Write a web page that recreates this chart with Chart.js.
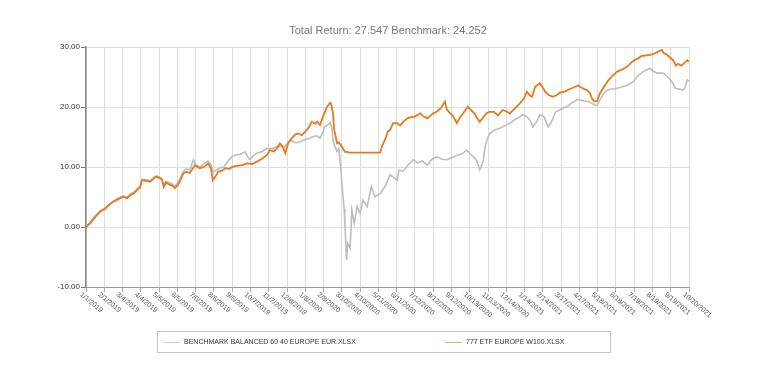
<!DOCTYPE html>
<html>
<head>
<meta charset="utf-8">
<script src="https://cdn.jsdelivr.net/npm/chart.js@4/dist/chart.umd.min.js"></script>
<style>
  html, body { margin: 0; padding: 0; background: #fff; }
  #wrap { position: relative; width: 760px; height: 366px; }
  #title { position: absolute; left: 288px; width: 200px; top: 23px; text-align: center; white-space: nowrap;
           font-family: "Liberation Sans", Arial, sans-serif; font-size: 11px; line-height: 14px; color: #777; }
  #legend { position: absolute; left: 157px; top: 331px; width: 452px; height: 20px; border: 1px solid #c4c4c4;
            font-family: "Liberation Sans", Arial, sans-serif; font-size: 7px; color: #333; }
  .li { position: absolute; top: 0; height: 20px; line-height: 20px; white-space: nowrap; }
  .sw { display: inline-block; width: 17px; height: 0; border-top: 1px solid; vertical-align: middle; margin-right: 4px; }
</style>
</head>
<body>
<div id="wrap">
  <canvas id="c" width="760" height="366"></canvas>
  <div id="title"></div>
  <div id="legend"></div>
</div>
<script>
const titleText = 'Total Return: 27.547 Benchmark: 24.252';
const benchLabel = 'BENCHMARK BALANCED 60 40 EUROPE EUR.XLSX';
const etfLabel = '777 ETF EUROPE W100.XLSX';

const tickLabels = ['1/1/2019','2/1/2019','3/4/2019','4/4/2019','5/5/2019','6/5/2019','7/6/2019','8/6/2019','9/6/2019','10/7/2019','11/7/2019','12/8/2019','1/8/2020','2/8/2020','3/10/2020','4/10/2020','5/11/2020','6/11/2020','7/12/2020','8/12/2020','9/12/2020','10/13/2020','11/13/2020','12/14/2020','1/14/2021','2/14/2021','3/17/2021','4/17/2021','5/18/2021','6/18/2021','7/19/2021','8/19/2021','9/19/2021','10/20/2021'];
const tickStepDays = 31;
const totalDays = 1023;

const yTicks = [-10, 0, 10, 20, 30];

// days since 1/1/2019
const benchDays = [0,7,15,24,32,41,48,54,63,70,75,81,87,92,95,102,109,115,120,126,129,132,136,141,146,151,156,159,165,170,176,182,187,193,200,207,212,215,221,227,234,241,248,254,261,270,275,278,283,290,299,307,316,324,331,336,343,349,356,363,370,377,385,392,397,402,405,411,414,417,419,422,426,429,432,435,438,439,442,444,448,451,455,460,465,470,477,484,490,499,507,516,523,528,531,538,546,555,563,570,579,587,595,604,612,621,629,638,646,651,657,663,668,674,677,682,685,694,702,711,719,726,733,741,748,755,758,765,770,777,784,789,797,804,811,816,823,828,833,838,845,852,858,864,867,872,879,884,891,896,904,911,918,923,930,935,940,945,952,957,962,969,974,980,987,994,1000,1006,1013,1016,1020,1023];
const benchVals = [0.0,0.8,1.8,2.7,3.2,3.8,4.4,4.8,5.2,5.0,5.5,5.8,6.4,6.9,7.9,7.9,7.7,8.3,8.5,8.2,8.0,7.0,7.6,7.4,7.2,6.8,7.4,8.0,9.2,9.7,9.5,11.2,10.3,10.0,10.6,11.0,10.4,9.2,9.5,9.8,10.05,11.0,11.8,12.0,12.1,12.55,11.6,11.2,11.8,12.3,12.6,13.1,13.0,13.4,13.5,13.2,14.2,14.4,14.0,14.2,14.5,14.7,15.05,15.2,14.8,15.8,16.7,17.1,17.4,16.5,14.5,13.4,12.55,13.0,10.05,6.2,3.0,1.1,-5.5,-2.7,-3.5,2.8,0.6,3.4,2.3,4.5,3.4,6.7,5.05,5.6,6.7,8.7,8.2,7.8,9.5,9.3,10.3,11.2,10.7,11.0,10.3,11.3,11.7,11.3,11.2,11.6,11.9,12.2,12.8,12.3,11.7,11.0,9.5,11.0,13.4,15.0,15.6,16.2,16.45,16.9,17.3,17.8,18.2,18.7,18.4,17.5,16.7,17.6,18.7,18.4,16.7,17.4,19.2,19.5,19.9,20.05,20.6,20.9,21.2,21.2,21.0,20.9,20.6,20.3,20.3,21.2,22.3,22.8,23.0,23.0,23.2,23.4,23.6,23.9,24.4,25.05,25.5,25.9,26.2,26.45,26.0,25.6,25.7,25.6,25.0,24.2,23.1,23.0,22.8,23.2,24.5,24.25];

const etfDays = [0,7,15,24,31,37,46,54,63,70,75,81,87,92,95,102,109,115,120,126,129,132,136,141,146,151,156,159,165,170,176,185,193,200,207,212,215,221,224,231,236,243,249,256,265,273,282,290,300,307,312,319,324,329,333,338,343,349,355,360,366,372,378,383,389,392,397,402,409,414,416,419,421,426,429,434,439,448,499,502,509,512,516,521,528,533,539,545,551,558,567,573,579,585,589,595,602,609,612,618,623,629,634,640,648,653,659,663,668,675,680,685,692,699,707,714,719,728,736,743,748,753,757,762,770,775,779,785,792,799,804,813,821,828,835,843,850,855,858,862,867,872,879,886,892,901,909,918,925,930,937,942,950,957,964,970,977,980,986,991,996,1001,1004,1010,1015,1020,1023];
const etfVals = [0.0,0.6,1.6,2.55,2.9,3.5,4.2,4.6,5.05,4.8,5.3,5.6,6.2,6.6,7.8,7.7,7.55,8.1,8.4,8.1,7.9,6.7,7.4,7.1,6.9,6.5,7.0,7.55,8.9,9.2,9.0,10.3,9.8,10.0,10.6,9.8,7.8,8.6,9.2,9.4,9.8,9.7,10.05,10.2,10.3,10.6,10.5,10.9,11.45,12.0,12.8,12.6,13.1,13.95,13.5,12.3,13.95,14.8,15.4,15.6,15.3,15.9,16.6,17.55,17.2,17.6,17.0,18.4,20.05,20.7,20.5,18.95,16.2,13.95,14.1,13.4,12.55,12.4,12.4,13.4,15.0,15.9,16.2,17.3,17.3,16.9,17.6,18.1,18.3,18.4,18.95,18.4,18.1,18.6,18.95,19.2,19.8,20.9,19.6,18.95,18.4,17.3,18.2,18.95,20.05,19.5,18.95,18.2,17.55,18.4,19.0,19.2,19.2,18.6,19.5,19.2,18.95,19.8,20.6,21.4,22.55,21.9,21.7,23.4,23.95,23.2,22.55,22.0,21.7,22.0,22.4,22.6,23.0,23.3,23.6,23.1,22.8,22.3,21.5,20.9,21.0,22.3,23.4,24.4,25.1,25.9,26.2,26.7,27.4,27.8,28.1,28.5,28.6,28.7,28.9,29.2,29.5,29.0,28.7,28.2,27.8,26.9,27.2,26.9,27.3,27.8,27.55];

const benchColor = '#bdbdbd';
const etfColor = '#e8781f';
const FONT = '"Liberation Sans", Arial, sans-serif';

const toPts = (xs, ys) => xs.map((d, i) => ({ x: d, y: ys[i] }));

const xLabelPlugin = {
  id: 'xLabels',
  afterDraw(chart) {
    const sc = chart.scales.x;
    const ctx = chart.ctx;
    ctx.save();
    ctx.font = '7px ' + FONT;
    ctx.fillStyle = '#555';
    ctx.textAlign = 'left';
    ctx.textBaseline = 'top';
    sc.ticks.forEach(t => {
      const px = sc.getPixelForValue(t.value);
      ctx.save();
      ctx.translate(px - 3, sc.top + 4);
      ctx.rotate(40 * Math.PI / 180);
      ctx.fillText(t.label, 0, 0);
      ctx.restore();
    });
    ctx.restore();
  }
};

document.getElementById('title').textContent = titleText;

const chart = new Chart(document.getElementById('c'), {
  type: 'line',
  data: {
    datasets: [
      { label: benchLabel, data: toPts(benchDays, benchVals), borderColor: benchColor, borderWidth: 1.6, pointRadius: 0, tension: 0, order: 1 },
      { label: etfLabel, data: toPts(etfDays, etfVals), borderColor: etfColor, borderWidth: 1.8, pointRadius: 0, tension: 0, order: 0 }
    ]
  },
  options: {
    responsive: false,
    animation: false,
    layout: { padding: { left: 0, right: 71, top: 47, bottom: 0 } },
    plugins: {
      legend: { display: false },
      tooltip: { enabled: false },
      title: { display: false }
    },
    scales: {
      x: {
        type: 'linear', min: 0, max: totalDays,
        afterBuildTicks: s => { s.ticks = tickLabels.map((_, i) => ({ value: i * tickStepDays })); },
        ticks: { display: false, callback: (v, i) => tickLabels[i] },
        grid: { color: '#dedede', lineWidth: 1, tickLength: 5, tickColor: '#aaa' },
        border: { color: '#999', width: 1 },
        afterFit: s => { s.height = 79; }
      },
      y: {
        min: -10, max: 30,
        afterBuildTicks: s => { s.ticks = yTicks.map(v => ({ value: v })); },
        ticks: { callback: v => v.toFixed(2), color: '#333', font: { family: FONT, size: 8 }, padding: 1 },
        grid: { color: '#dedede', lineWidth: 1, tickLength: 5, tickColor: '#777' },
        border: { color: '#888', width: 1.5 },
        afterFit: s => { s.width = 86; }
      }
    }
  },
  plugins: [xLabelPlugin]
});

// HTML legend built from dataset labels
const leg = document.getElementById('legend');
const items = [
  { label: benchLabel, color: '#cfcfcf', left: 5 },
  { label: etfLabel, color: '#e0b277', left: 287 }
];
items.forEach(it => {
  const d = document.createElement('div');
  d.className = 'li';
  d.style.left = it.left + 'px';
  const sw = document.createElement('span');
  sw.className = 'sw';
  sw.style.borderTopColor = it.color;
  d.appendChild(sw);
  d.appendChild(document.createTextNode(it.label));
  leg.appendChild(d);
});
</script>
</body>
</html>
